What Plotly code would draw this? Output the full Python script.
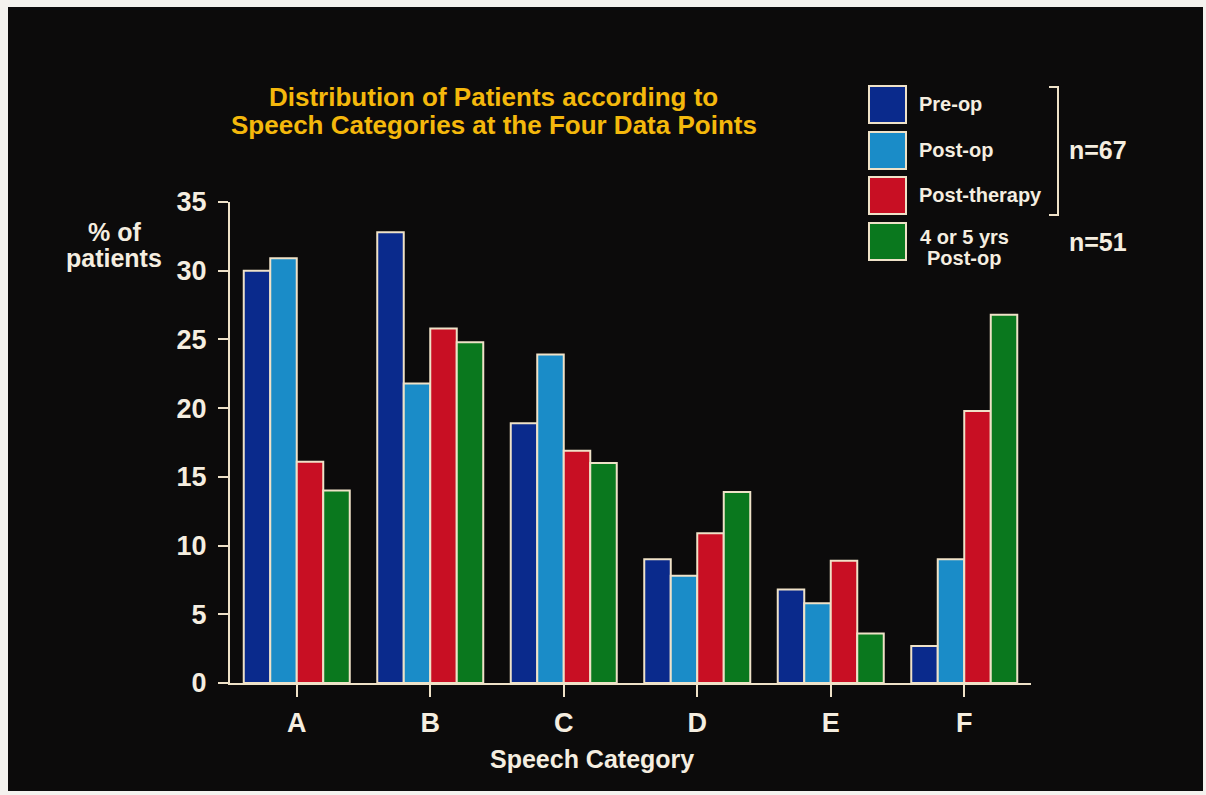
import plotly.graph_objects as go

# Speech categories and share of patients (%) at each data point
categories = ["A", "B", "C", "D", "E", "F"]
pre_op = [30.0, 32.8, 18.9, 9.0, 6.8, 2.7]
post_op = [30.9, 21.8, 23.9, 7.8, 5.8, 9.0]
post_therapy = [16.1, 25.8, 16.9, 10.9, 8.9, 19.8]
long_term = [14.0, 24.8, 16.0, 13.9, 3.6, 26.8]

series_names = ["Pre-op", "Post-op", "Post-therapy", "4 or 5 yrs<br>Post-op"]
series_values = [pre_op, post_op, post_therapy, long_term]
series_colors = ["#0a2a8c", "#1a8cc8", "#c80f23", "#0a781e"]

y_ticks = [0, 5, 10, 15, 20, 25, 30, 35]

W_FIG, H_FIG = 1206, 795
L, R, T, B = 230, 175, 202, 112
PW, PH = W_FIG - L - R, H_FIG - T - B

OUTLINE = "#efe2c8"
TEXT = "#f5eee0"
GOLD = "#f4b80c"
BG = "#0c0b0b"
FONT = "Liberation Sans"


def px(x):
    return (x - L) / PW


def py(y):
    return 1 - (y - T) / PH


def label(text, x, y, size, color=TEXT, xanchor="center"):
    return dict(text=text, x=px(x), y=py(y), xref="paper", yref="paper",
                xanchor=xanchor, yanchor="middle", showarrow=False,
                font=dict(family=FONT, size=size, color=color, weight="bold"))


fig = go.Figure()
for name, vals, col in zip(series_names, series_values, series_colors):
    fig.add_trace(go.Bar(
        x=categories, y=vals, name=name,
        marker=dict(color=col, line=dict(color=OUTLINE, width=2)),
        showlegend=False,
    ))

shapes = []
annotations = []

# slide frame
for x0, y0, x1, y1 in [(0, 0, W_FIG, 7), (0, 0, 8, H_FIG),
                       (W_FIG - 3, 0, W_FIG, H_FIG), (0, H_FIG - 4, W_FIG, H_FIG)]:
    shapes.append(dict(type="rect", xref="paper", yref="paper", layer="below",
                       x0=px(x0), x1=px(x1), y0=py(y0), y1=py(y1),
                       fillcolor="#f4f2ee", line=dict(width=0)))

# title
annotations.append(label("Distribution of Patients according to", 493, 97, 26, GOLD))
annotations.append(label("Speech Categories at the Four Data Points", 494, 125, 26, GOLD))

# y-axis label
annotations.append(label("% of", 114, 232, 25))
annotations.append(label("patients", 114, 258, 25))

# x-axis label
annotations.append(label("Speech Category", 592, 759, 25))

# legend
sq_tops = [86, 132, 177, 223]
for top, col, name in zip(sq_tops, series_colors, series_names):
    shapes.append(dict(type="rect", xref="paper", yref="paper",
                       x0=px(869), x1=px(906), y0=py(top), y1=py(top + 37),
                       fillcolor=col, line=dict(color=OUTLINE, width=2)))
    lines = name.split("<br>")
    if len(lines) == 1:
        annotations.append(label(name, 917, top + 18, 20, xanchor="left"))
    else:
        for ln, yy in zip(lines, [top + 14, top + 35]):
            annotations.append(label(ln, 964, yy, 20))

# bracket grouping the first three data points
shapes.append(dict(type="path", xref="paper", yref="paper",
                   path=f"M {px(1049)} {py(87)} L {px(1058)} {py(87)} L {px(1058)} {py(215)} L {px(1049)} {py(215)}",
                   line=dict(color=OUTLINE, width=2)))
annotations.append(label("n=67", 1098, 150, 25))
annotations.append(label("n=51", 1098, 242, 25))

fig.update_layout(
    width=W_FIG, height=H_FIG,
    margin=dict(l=L, r=R, t=T, b=B),
    paper_bgcolor=BG, plot_bgcolor=BG,
    barmode="group", bargap=0.206, bargroupgap=0,
    shapes=shapes, annotations=annotations,
    xaxis=dict(
        range=[-0.5, 5.5], showline=True, linecolor=OUTLINE, linewidth=2,
        ticks="outside", ticklen=12, tickwidth=2, tickcolor=OUTLINE,
        showgrid=False, zeroline=False, ticklabelstandoff=3,
        tickfont=dict(family=FONT, size=27, color=TEXT, weight="bold"),
    ),
    yaxis=dict(
        range=[0, 35], tickvals=y_ticks, showline=True, linecolor=OUTLINE, linewidth=2,
        ticks="outside", ticklen=10, tickwidth=2, tickcolor=OUTLINE,
        showgrid=False, zeroline=False, ticklabelstandoff=6,
        tickfont=dict(family=FONT, size=27, color=TEXT, weight="bold"),
    ),
)

fig.write_html("out.html")
